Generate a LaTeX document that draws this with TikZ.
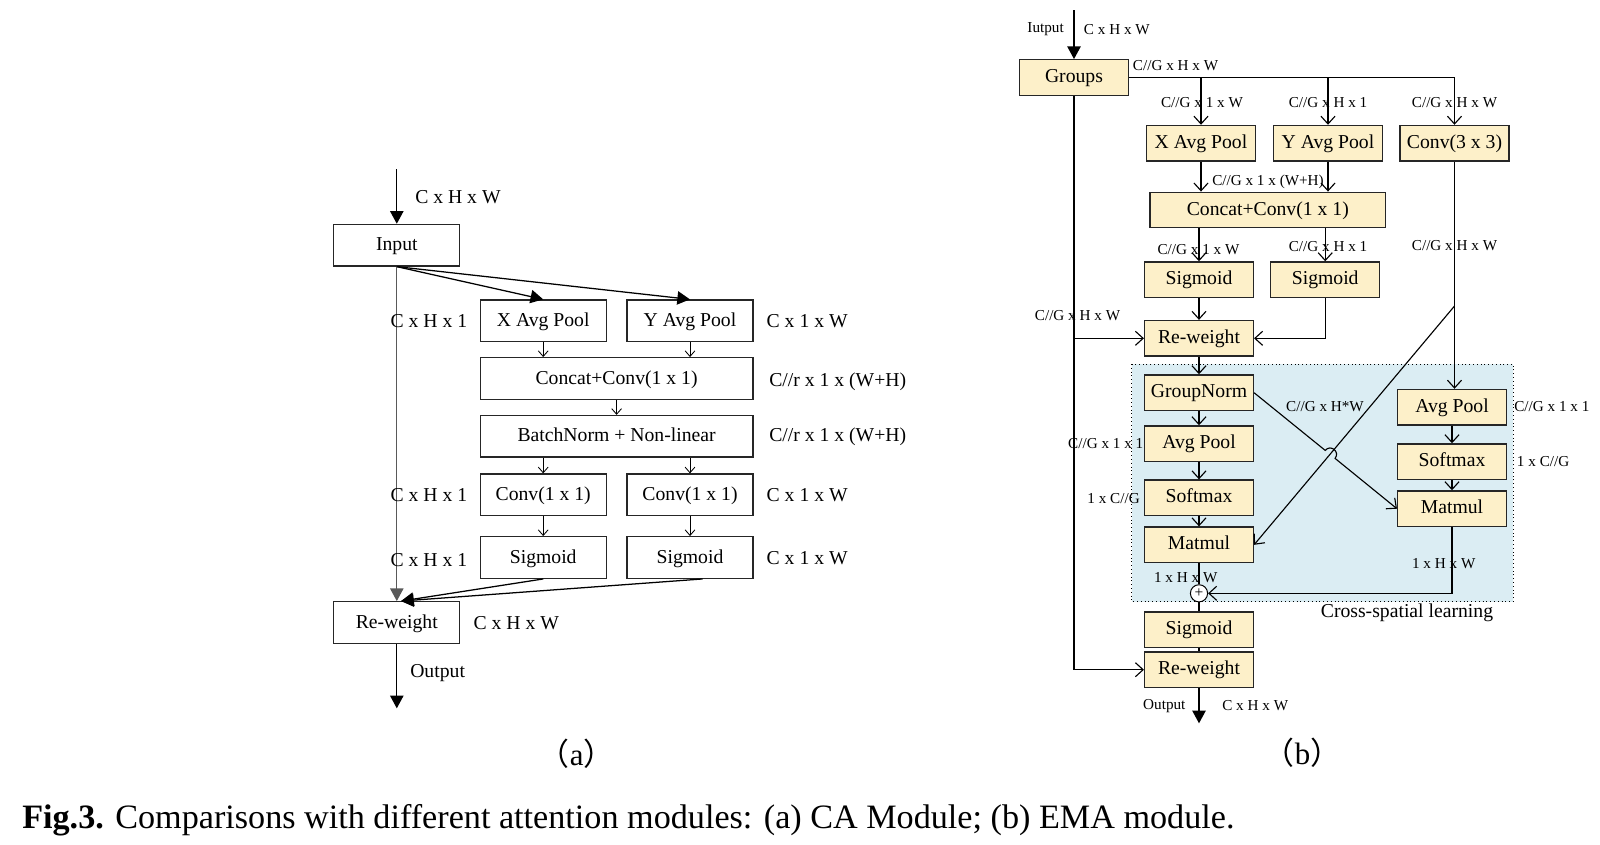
\documentclass[tikz,border=0pt]{standalone}
\usepackage{fontspec}
\setmainfont{Liberation Serif}
\newfontfamily\cjk{Noto Sans CJK SC}
\usetikzlibrary{arrows.meta,calc,positioning}
\usepackage{xcolor}
\definecolor{boxfill}{RGB}{253,240,201}
\definecolor{crossfill}{RGB}{219,237,243}

\begin{document}
\begin{tikzpicture}[x=0.025cm,y=-0.025cm,
    boxa/.style={draw=black!85,line width=0.9pt,minimum width=3.15cm,minimum height=1.04cm,inner sep=0pt,text height=0.85em,text depth=0.05em,font=\fontsize{14}{16}\selectfont},
    widebox/.style={minimum width=6.82cm},
    boxb/.style={draw=black!85,fill=boxfill,line width=0.9pt,minimum width=2.72cm,minimum height=0.89cm,inner sep=0pt,text height=0.8em,text depth=0.08em,font=\fontsize{14}{16}\selectfont},
    lbla/.style={inner sep=0pt,font=\fontsize{14}{16}\selectfont},
    lblb/.style={inner sep=0pt,font=\fontsize{10.8}{12}\selectfont},
    subcap/.style={inner sep=0pt,font=\fontsize{22}{24}\selectfont},
    bigarr/.style={-{Triangle[length=9pt,width=9.5pt]},line width=0.9pt},
    tinyarr/.style={-{Straight Barb[length=4pt,width=7pt]},line width=0.6pt},
    barbarr/.style={-{Straight Barb[length=5.5pt,width=10pt]},line width=0.8pt}]

    \useasboundingbox (0,0) rectangle (1600,844);

    % (a) CA module
    \node[boxa] (inA) at (396.8,245.2) {Input};
    \node[boxa] (xpA) at (543.2,320.8) {X Avg Pool};
    \node[boxa] (ypA) at (690,320.8) {Y Avg Pool};
    \node[boxa,widebox] (ccA) at (616.6,378.5) {Concat+Conv(1 x 1)};
    \node[boxa,widebox] (bnA) at (616.6,436.3) {BatchNorm + Non-linear};
    \node[boxa] (cvXA) at (543.2,494.8) {Conv(1 x 1)};
    \node[boxa] (cvYA) at (690,494.8) {Conv(1 x 1)};
    \node[boxa] (sgXA) at (543.2,557.5) {Sigmoid};
    \node[boxa] (sgYA) at (690,557.5) {Sigmoid};
    \node[boxa] (rwA) at (396.8,622.5) {Re-weight};
    \coordinate (topA) at (396.8,169.3);
    \coordinate (outA) at (396.8,708.3);

    \draw[bigarr] (topA) -- (inA);
    \draw[bigarr] (inA.south) -- (xpA.north);
    \draw[bigarr] (inA.south) -- (ypA.north);
    \draw[bigarr,draw=black!65] (inA.south) -- (rwA.north);
    \foreach \a/\b in {xpA/ccA, ypA/ccA, cvXA/sgXA, cvYA/sgYA} {
        \draw[tinyarr] (\a.south) -- (\a.south |- \b.north);
    }
    \draw[tinyarr] (ccA.south) -- (bnA.north);
    \draw[tinyarr] (cvXA.north |- bnA.south) -- (cvXA.north);
    \draw[tinyarr] (cvYA.north |- bnA.south) -- (cvYA.north);
    \draw[bigarr] (sgXA.south) -- ([xshift=3pt]rwA.north);
    \draw[bigarr] ([xshift=9pt]sgYA.south) -- ([xshift=3pt]rwA.north);
    \draw[bigarr] (rwA) -- (outA);

    \node[lbla,anchor=west] (dimInA) at (415,196.7) {C x H x W};
    \foreach \y [count=\i] in {321,495,560} {
        \node[lbla,anchor=east] (dimLA\i) at (467.5,\y) {C x H x 1};
    }
    \foreach \y [count=\i] in {321,495,558.3} {
        \node[lbla,anchor=west] (dimRA\i) at (766.4,\y) {C x 1 x W};
    }
    \node[lbla,anchor=west] (dimCcA) at (769,381.7) {C//r x 1 x (W+H)};
    \node[lbla,anchor=west] (dimBnA) at (769,436.7) {C//r x 1 x (W+H)};
    \node[lbla,anchor=west] (dimRwA) at (473.3,622.7) {C x H x W};
    \node[lbla,anchor=west] (outTxtA) at (410,673.3) {Output};
    \node[subcap] (capA) at (576.7,753.3) {{\cjk （}a{\cjk ）}};

    % (b) EMA module
    \draw[dotted,line width=0.7pt,fill=crossfill] (1131.8,364) rectangle (1513.2,601.7);

    \node[boxb] (grp) at (1074,77.5) {Groups};
    \node[boxb] (xpB) at (1201,143.2) {X Avg Pool};
    \node[boxb] (ypB) at (1328,143.2) {Y Avg Pool};
    \node[boxb] (c3B) at (1454.5,143.2) {Conv(3 x 3)};
    \node[boxb,minimum width=5.89cm] (ccB) at (1267.8,210) {Concat+Conv(1 x 1)};
    \node[boxb] (sgXB) at (1199,279.7) {Sigmoid};
    \node[boxb] (sgYB) at (1325.2,279.7) {Sigmoid};
    \node[boxb] (rwB) at (1199,338.3) {Re-weight};
    \node[boxb] (gnB) at (1199,392.7) {GroupNorm};
    \node[boxb] (apB) at (1199,443.7) {Avg Pool};
    \node[boxb] (smB) at (1199,497.8) {Softmax};
    \node[boxb] (mmB) at (1199,544.8) {Matmul};
    \node[boxb] (apR) at (1452,407.2) {Avg Pool};
    \node[boxb] (smR) at (1452,461.7) {Softmax};
    \node[boxb] (mmR) at (1452,508.7) {Matmul};
    \node[draw,circle,fill=white,line width=0.7pt,minimum size=0.43cm,inner sep=0pt,font=\fontsize{11}{11}\selectfont] (plus) at (1199,593.3) {+};
    \node[boxb] (sgB) at (1199,629.7) {Sigmoid};
    \node[boxb] (rw2B) at (1199,669.7) {Re-weight};
    \coordinate (topB) at (1074,10.2);
    \coordinate (outB) at (1199,723.3);
    \coordinate (splitB) at (1454.5,306);
    \coordinate (hopX) at (intersection of gnB.east--mmR.west and splitB--mmB.east);
    \coordinate (hopA) at ($(hopX)!4.5pt!(gnB.east)$);
    \coordinate (hopB) at ($(hopX)!4.5pt!(mmR.west)$);

    \draw[bigarr] (topB) -- (grp);
    \draw[barbarr] (grp.east) -| (c3B.north);
    \draw[barbarr] (xpB.north |- grp.east) -- (xpB.north);
    \draw[barbarr] (ypB.north |- grp.east) -- (ypB.north);
    \foreach \a/\b in {xpB/ccB, ypB/ccB, c3B/apR} {
        \draw[barbarr] (\a.south) -- (\a.south |- \b.north);
    }
    \draw[barbarr] (sgXB.north |- ccB.south) -- (sgXB.north);
    \draw[barbarr] (sgYB.north |- ccB.south) -- (sgYB.north);
    \draw[barbarr] (sgXB) -- (rwB);
    \draw[barbarr] (sgYB.south) |- (rwB.east);
    \draw[barbarr] (grp.south) |- (rw2B.west);
    \draw[barbarr] (grp.south |- rwB.west) -- (rwB.west);
    \foreach \a/\b in {rwB/gnB, gnB/apB, apB/smB, smB/mmB, apR/smR, smR/mmR} {
        \draw[barbarr] (\a) -- (\b);
    }
    \draw[barbarr] (splitB) -- (mmB.east);
    \draw[barbarr] (gnB.east) -- (hopA) .. controls ($(hopA)!6pt!90:(hopX)$) and ($(hopB)!6pt!-90:(hopX)$) .. (hopB) -- (mmR.west);
    \draw[line width=0.8pt] (mmB) -- (plus);
    \draw[barbarr] (mmR.south) |- (plus.east);
    \draw[line width=0.8pt] (plus) -- (sgB);
    \draw[line width=0.8pt] (sgB) -- (rw2B);
    \draw[bigarr] (rw2B) -- (outB);

    \node[lblb,anchor=east] (iutTxt) at (1064,29.6) {Iutput};
    \node[lblb,anchor=west] (dimTopB) at (1083.7,29.6) {C x H x W};
    \node[lblb,anchor=west] (dimGrp) at (1132.7,66) {C//G x H x W};
    \node[lblb] (dimXp) at (1202,102.7) {C//G x 1 x W};
    \node[lblb] (dimYp) at (1328,102.7) {C//G x H x 1};
    \node[lblb] (dimC3) at (1454.5,102.7) {C//G x H x W};
    \node[lblb] (dimCc) at (1268,181.7) {C//G x 1 x (W+H)};
    \node[lblb] (dimSgX) at (1198.5,250) {C//G x 1 x W};
    \node[lblb] (dimSgY) at (1328,247) {C//G x H x 1};
    \node[lblb] (dimC3b) at (1454.5,246) {C//G x H x W};
    \node[lblb] (dimSkip) at (1077.5,316) {C//G x H x W};
    \node[lblb,anchor=east] (dimApB) at (1143.6,444) {C//G x 1 x 1};
    \node[lblb,anchor=east] (dimSmB) at (1140,498.3) {1 x C//G};
    \node[lblb] (dimHW) at (1325,406.7) {C//G x H*W};
    \node[lblb,anchor=west] (dimApR) at (1514,406.7) {C//G x 1 x 1};
    \node[lblb,anchor=west] (dimSmR) at (1516.7,461.7) {1 x C//G};
    \node[lblb] (dimMmB) at (1185.7,577.3) {1 x H x W};
    \node[lblb] (dimMmR) at (1443.7,563.3) {1 x H x W};
    \node[lblb,anchor=east] (outTxtB) at (1185.7,706) {Output};
    \node[lblb,anchor=west] (dimOutB) at (1222,706) {C x H x W};
    \node[lbla] (crossTxt) at (1407,612.7) {Cross-spatial learning};
    \node[subcap] (capB) at (1302.5,752.7) {{\cjk （}b{\cjk ）}};

    % caption
    \node[anchor=base west,inner sep=0pt,font=\fontsize{24.3}{28}\selectfont] (caption) at (22,828) {\textbf{Fig.3.} Comparisons with different attention modules: (a) CA Module; (b) EMA module.};

\end{tikzpicture}
\end{document}
